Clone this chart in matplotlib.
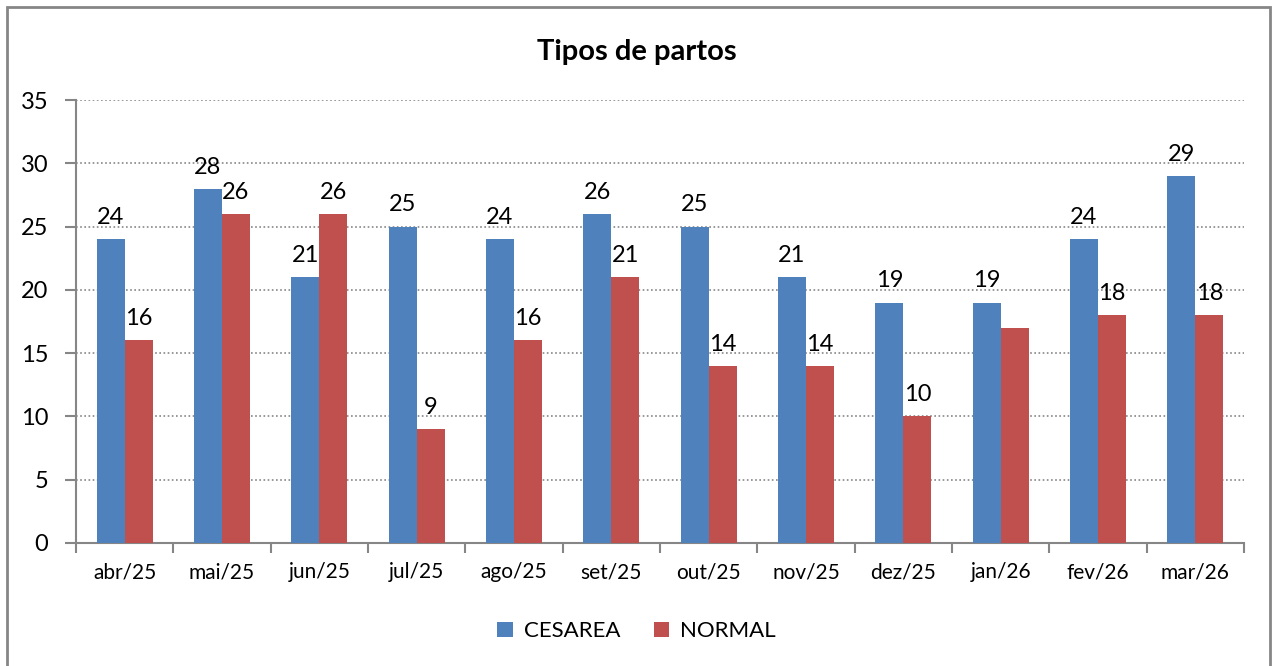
import matplotlib
matplotlib.use('Agg')
import matplotlib.pyplot as plt
from matplotlib.patches import Rectangle
import numpy as np

# data
meses = ['abr/25', 'mai/25', 'jun/25', 'jul/25', 'ago/25', 'set/25',
         'out/25', 'nov/25', 'dez/25', 'jan/26', 'fev/26', 'mar/26']
cesarea = [24, 28, 21, 25, 24, 26, 25, 21, 19, 19, 24, 29]
normal = [16, 26, 26, 9, 16, 21, 14, 14, 10, 17, 18, 18]
normal_rotulo = [True] * 9 + [False] + [True] * 2  # jan/26 has no label

plt.rcParams['font.family'] = ['Lato', 'DejaVu Sans']

fig = plt.figure(figsize=(12.73, 6.66), dpi=100)
ax = fig.add_axes([0.0597, 0.1847, 0.9175, 0.6651])

x = np.arange(len(meses))
w = 0.288
b1 = ax.bar(x - w / 2, cesarea, w, color='#4F81BD', label='CESAREA', zorder=3)
b2 = ax.bar(x + w / 2, normal, w, color='#C0504D', label='NORMAL', zorder=3)

for i, r in enumerate(b1):
    ax.annotate(str(cesarea[i]), (r.get_x() + r.get_width() / 2, r.get_height()),
                xytext=(0, 8), textcoords='offset points', ha='center', va='bottom',
                fontsize=17)
for i, r in enumerate(b2):
    if normal_rotulo[i]:
        ax.annotate(str(normal[i]), (r.get_x() + r.get_width() / 2, r.get_height()),
                    xytext=(0, 8), textcoords='offset points', ha='center', va='bottom',
                    fontsize=17)

ax.set_xlim(-0.5, len(meses) - 0.5)
ax.set_ylim(0, 35)
ax.set_yticks(range(0, 36, 5))
ax.set_xticks(x)
ax.set_xticklabels(meses)
ax.set_xticks(np.arange(-0.5, len(meses)), minor=True)
ax.tick_params(axis='x', which='major', length=0, labelsize=15, pad=14)
ax.tick_params(axis='x', which='minor', length=7, width=1.5, color='#868686', direction='out')
ax.tick_params(axis='y', length=8, width=1.5, color='#868686', labelsize=17, pad=12)

ax.grid(axis='y', linestyle=(0, (1, 1.5)), color='#868686', linewidth=1.2, zorder=0)
for s in ['top', 'right']:
    ax.spines[s].set_visible(False)
for s in ['left', 'bottom']:
    ax.spines[s].set_color('#868686')
    ax.spines[s].set_linewidth(1.5)

fig.text(0.5, 0.922, 'Tipos de partos', ha='center', va='center', fontsize=21, fontweight='bold')

ax.legend(loc='center', bbox_to_anchor=(0.5, 0.052), bbox_transform=fig.transFigure,
          ncol=2, frameon=False, fontsize=16, handlelength=0.7, handleheight=0.7,
          columnspacing=1.5, handletextpad=0.5)

# outer border
fig.patches.append(Rectangle((0.0055, -0.01), 0.9921, 0.9995, transform=fig.transFigure,
                             fill=False, edgecolor='#868686', linewidth=2))

fig.savefig('out.png', dpi=100)
